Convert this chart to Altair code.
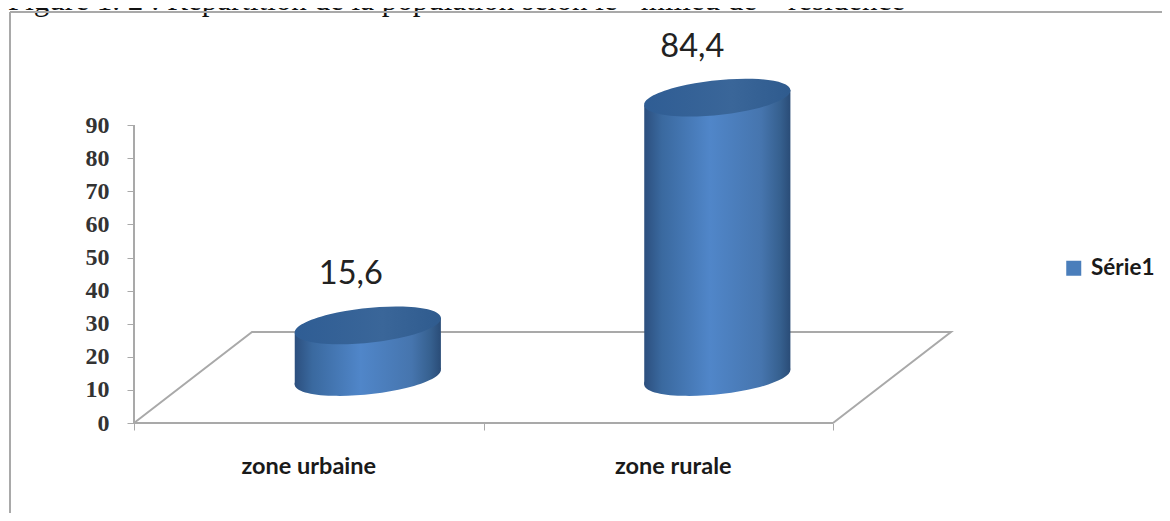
import altair as alt
import pandas as pd

categories = ["zone urbaine", "zone rurale"]
centers = [0.5, 1.5]
values = [15.6, 84.4]
value_labels = ["15,6", "84,4"]
series_name = "Série1"
title_text = "Figure 1. 2 : Répartition de la population selon le\u00a0\u00a0 milieu de\u00a0\u00a0\u00a0 résidence"
y_ticks = [0, 10, 20, 30, 40, 50, 60, 70, 80, 90]
x_ticks = [0, 1, 2]

# floor parallelogram in axis units
depth_x = 0.3376
depth_y = 27.5
floor_x = [0, depth_x, 2 + depth_x, 2]
floor_y = [0, depth_y, depth_y, 0]
floor_order = [0, 1, 2, 3]
# cylinders stand in the middle of the floor
bar_shift_x = 0.169
bar_shift_y = 13.9
half_width = 0.2091
tilt = 2.33

W, H = 1154, 505
x_scale = alt.Scale(domain=[-0.3605, 2.9413], nice=False, zero=False)
y_scale = alt.Scale(domain=[-27.19, 125.38], nice=False, zero=False)

df = pd.DataFrame({"cat": categories, "c": centers, "v": values, "lab": value_labels})
df["cx"] = df["c"] + bar_shift_x
df["base"] = bar_shift_y
df["top"] = df["v"] + bar_shift_y

floor_df = pd.DataFrame({"x": floor_x, "y": floor_y, "o": floor_order})
GRAY = "#a9a9a9"
side = alt.Gradient(gradient="linear", x1=0, x2=1, y1=0, y2=0, stops=[
    alt.GradientStop(offset=0, color="#2c4f7e"),
    alt.GradientStop(offset=0.12, color="#3a699f"),
    alt.GradientStop(offset=0.45, color="#5086c9"),
    alt.GradientStop(offset=0.8, color="#4675ae"),
    alt.GradientStop(offset=0.93, color="#36608f"),
    alt.GradientStop(offset=1, color="#2a4c77"),
])
cap = alt.Gradient(gradient="linear", x1=0, x2=1, y1=0, y2=0, stops=[
    alt.GradientStop(offset=0, color="#2f5d94"),
    alt.GradientStop(offset=0.6, color="#3a6699"),
    alt.GradientStop(offset=1, color="#2f5b8e"),
])
ELLIPSE = "M-0.9945,0.1045 A1,0.235,-6,1,1,0.9945,-0.1045 A1,0.235,-6,1,1,-0.9945,0.1045 Z"
SIZE = 147 ** 2

X = alt.X("x:Q", scale=x_scale, title=None,
          axis=alt.Axis(values=x_ticks, labels=False, domain=False, grid=False, offset=-90,
                        tickColor=GRAY, tickSize=7, tickWidth=1))
Y = alt.Y("y:Q", scale=y_scale, title=None,
          axis=alt.Axis(values=y_ticks, domain=False, grid=False, offset=-126, tickColor=GRAY,
                        tickSize=7, tickWidth=1, labelFont="Liberation Serif", labelFontSize=24,
                        labelFontWeight="bold", labelColor="#333333", labelPadding=18, format="d"))

floor = alt.Chart(floor_df).mark_line(color=GRAY, strokeWidth=2).encode(x=X, y=Y, order="o:Q")
yaxis_line = alt.Chart(pd.DataFrame({"x": [0], "y": [0], "y2": [90]})).mark_rule(color=GRAY, strokeWidth=2).encode(
    x=alt.X("x:Q", scale=x_scale), y=alt.Y("y:Q", scale=y_scale), y2="y2:Q")
xaxis_line = alt.Chart(pd.DataFrame({"x": [0], "x2": [2], "y": [0]})).mark_rule(color=GRAY, strokeWidth=2).encode(
    x=alt.X("x:Q", scale=x_scale), x2="x2:Q", y=alt.Y("y:Q", scale=y_scale))

bottom = alt.Chart(df).mark_point(shape=ELLIPSE, filled=True, fill=side, size=SIZE, opacity=1).encode(
    x=alt.X("cx:Q", scale=x_scale), y=alt.Y("base:Q", scale=y_scale))


def body(i):
    row = df.iloc[i]
    part = pd.DataFrame({
        "x": [row.cx - half_width, row.cx + half_width],
        "y": [row.top - tilt, row.top + tilt],
        "y2": [row.base - tilt, row.base + tilt],
    })
    return alt.Chart(part).mark_area(fill=side).encode(
        x=alt.X("x:Q", scale=x_scale), y=alt.Y("y:Q", scale=y_scale), y2="y2:Q")


top = alt.Chart(df).mark_point(shape=ELLIPSE, filled=True, fill=cap, size=SIZE, opacity=1).encode(
    x=alt.X("cx:Q", scale=x_scale), y=alt.Y("top:Q", scale=y_scale))


def val_text(i, dx):
    return alt.Chart(df.iloc[[i]]).mark_text(font="Lato", fontSize=32.5, color="#222222", dy=-51, dx=dx).encode(
        x=alt.X("cx:Q", scale=x_scale), y=alt.Y("top:Q", scale=y_scale), text="lab:N")


def cat_text(i, dx):
    return alt.Chart(df.iloc[[i]]).mark_text(font="Lato", fontSize=23.5, fontWeight="bold", color="#1a1a1a",
                                             dx=dx, baseline="alphabetic").encode(
        x=alt.X("c:Q", scale=x_scale), y=alt.value(466), text="cat:N")


title = alt.Chart(pd.DataFrame({"t": [title_text]})).mark_text(
    font="Liberation Serif", fontSize=31, align="left", baseline="alphabetic", color="#111111"
).encode(x=alt.value(0), y=alt.value(2), text="t:N")

frame_l = alt.Chart(pd.DataFrame({"a": [0]})).mark_rule(color=GRAY, strokeWidth=2).encode(
    x=alt.value(2), y=alt.value(4), y2=alt.value(H))
frame_t = alt.Chart(pd.DataFrame({"a": [0]})).mark_rule(color=GRAY, strokeWidth=2).encode(
    y=alt.value(4), x=alt.value(2), x2=alt.value(W))

legend_src = alt.Chart(pd.DataFrame({"s": [series_name], "x": [0.0], "y": [0.0]})).mark_square(size=0).encode(
    x=alt.X("x:Q", scale=x_scale), y=alt.Y("y:Q", scale=y_scale),
    color=alt.Color("s:N", scale=alt.Scale(domain=[series_name], range=["#4a7ebb"]),
                    legend=alt.Legend(orient="none", legendX=1054.5, legendY=249, title=None, padding=0,
                                      symbolType="square", symbolSize=225, labelFont="Lato",
                                      labelFontSize=22.5, labelFontWeight="bold", labelColor="#1a1a1a",
                                      labelOffset=6, symbolOpacity=1)))

chart = alt.layer(
    title, frame_l, frame_t, floor, yaxis_line, xaxis_line, bottom, body(0), body(1), top,
    val_text(0, -17), val_text(1, -25), cat_text(0, 0), cat_text(1, 15), legend_src
).properties(width=W, height=H, autosize="none", padding=0).configure_view(stroke=None)

chart.save("out.html", embed_options={"renderer": "svg", "actions": False})
